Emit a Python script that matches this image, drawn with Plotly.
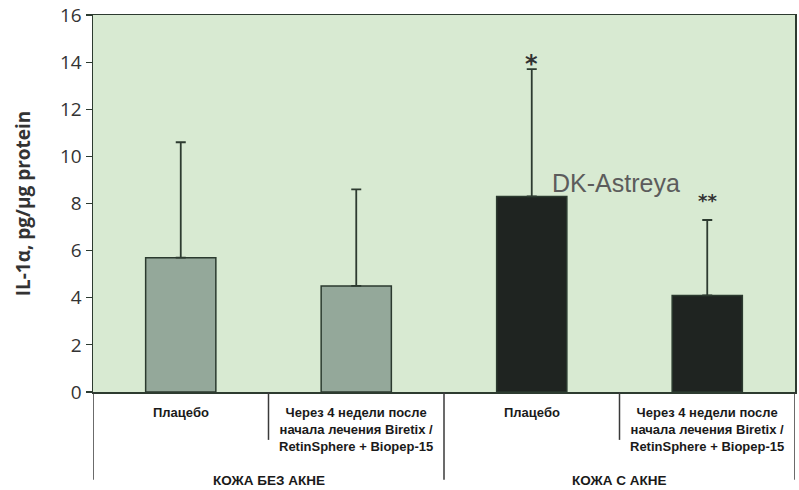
import plotly.graph_objects as go

# ---- data ----
categories = [
    "Плацебо",
    "Через 4 недели после<br>начала лечения Biretix /<br>RetinSphere + Biopep-15",
    "Плацебо",
    "Через 4 недели после<br>начала лечения Biretix /<br>RetinSphere + Biopep-15",
]
groups = ["КОЖА БЕЗ АКНЕ", "КОЖА С АКНЕ"]
values = [5.7, 4.5, 8.3, 4.1]
errors_plus = [4.9, 4.1, 5.4, 3.2]
significance = ["", "", "*", "**"]
bar_colors = ["#94a89a", "#94a89a", "#1f2421", "#1f2421"]
y_ticks = [0, 2, 4, 6, 8, 10, 12, 14, 16]

x_idx = list(range(len(categories)))
axis_col = "#2d3b30"
cond_font = "Liberation Sans, Arial, sans-serif"

fig = go.Figure()
fig.add_trace(go.Bar(
    x=x_idx, y=values, width=0.4,
    marker=dict(color=bar_colors, line=dict(color="#2b3a2f", width=1.5)),
    error_y=dict(type="data", symmetric=False, array=errors_plus,
                 arrayminus=[0] * len(values), color=axis_col,
                 thickness=1.8, width=5),
    showlegend=False, hoverinfo="skip",
))

annotations = []
# significance marks
shifts = {"*": -11, "**": 7}
sizes = {"*": 24, "**": 18}
for i, s in enumerate(significance):
    if s:
        annotations.append(dict(
            x=x_idx[i], y=values[i] + errors_plus[i], xref="x", yref="y",
            text="<b>" + s + "</b>", showarrow=False, yanchor="bottom", yshift=shifts[s],
            font=dict(family="DejaVu Sans, sans-serif", size=sizes[s], color="#333333"),
        ))
# category labels
for i, c in enumerate(categories):
    annotations.append(dict(
        x=x_idx[i], y=-0.028, xref="x", yref="paper", text="<b>" + c + "</b>",
        showarrow=False, yanchor="top", align="center",
        font=dict(family=cond_font, size=13, color="#1a1a1a"),
    ))
# group labels
for g, name in enumerate(groups):
    annotations.append(dict(
        x=2 * g + 0.5, y=-0.21, xref="x", yref="paper", text="<b>" + name + "</b>",
        showarrow=False, yanchor="top", align="center",
        font=dict(family=cond_font, size=13.5, color="#1a1a1a"),
    ))
# watermark
annotations.append(dict(
    x=0.745, y=0.555, xref="paper", yref="paper", text="DK-Astreya",
    showarrow=False, xanchor="center", yanchor="middle",
    font=dict(family="Liberation Sans, sans-serif", size=25, color="#5c5c5c"),
))

shapes = []
# separators below axis
n = len(categories)
for k in range(n + 1):
    xb = k - 0.5
    long = (k % 2 == 0)
    shapes.append(dict(
        type="line", xref="x", yref="paper", x0=xb, x1=xb,
        y0=0, y1=(-0.233 if long else -0.127),
        line=dict(color="#3a3a3a", width=1.5),
    ))

fig.update_layout(
    width=799, height=490,
    margin=dict(l=93, r=4, t=15, b=98, autoexpand=False),
    paper_bgcolor="white", plot_bgcolor="#d8ead2",
    annotations=annotations, shapes=shapes,
    xaxis=dict(range=[-0.5, n - 0.5], showticklabels=False, ticks="",
               showgrid=False, zeroline=False, showline=True, automargin=False,
               linecolor=axis_col, linewidth=1.5, mirror=True, fixedrange=True),
    yaxis=dict(range=[0, 16], tickvals=y_ticks, ticks="outside", ticklen=6,
               tickcolor=axis_col, tickwidth=1.2, showgrid=False, zeroline=False,
               showline=True, linecolor=axis_col, linewidth=1.5, mirror=True,
               automargin=False,
               tickfont=dict(family="Open Sans, sans-serif", size=19, color="#333333"),
               title=dict(text="<b>IL-1α, pg/μg protein</b>", standoff=24,
                          font=dict(family="Open Sans, sans-serif", size=19, color="#333333")),
               fixedrange=True),
)

fig.write_html(
    "out.html",
    config={"displayModeBar": False, "staticPlot": True},
    post_script="document.body.style.margin='0';document.body.style.padding='0';",
)
